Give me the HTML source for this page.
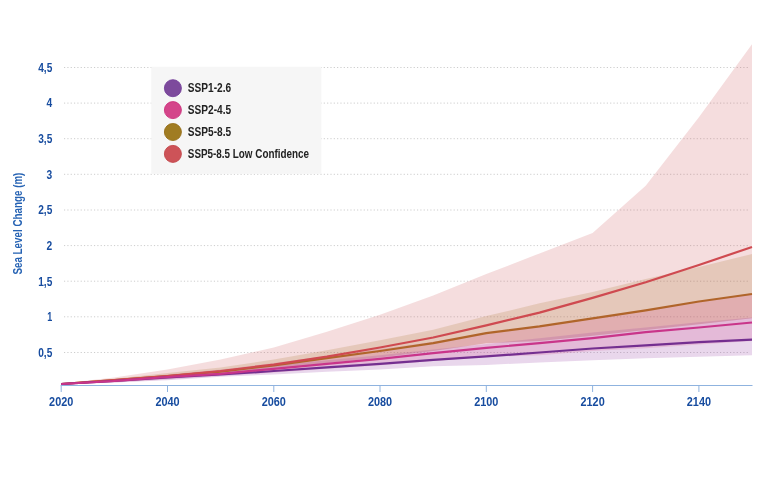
<!DOCTYPE html>
<html lang="en"><head><meta charset="utf-8"><title>Sea Level Change</title>
<style>
html,body{margin:0;padding:0;background:#fff;}
body{width:768px;height:477px;overflow:hidden;}
svg{display:block;}
text{font-family:"Liberation Sans",sans-serif;font-weight:bold;font-size:12px;}
.ax{fill:#174c9f;}
.lg{fill:#222;}
</style></head><body>
<svg width="768" height="477" viewBox="0 0 768 477">
<rect width="768" height="477" fill="#fff"/>

<g stroke="#cdcdcd" stroke-width="1" stroke-dasharray="1.2 2.13" fill="none">
<path d="M64 352.5H750"/>
<path d="M64 316.8H750"/>
<path d="M64 281.2H750"/>
<path d="M64 245.6H750"/>
<path d="M64 210.0H750"/>
<path d="M64 174.3H750"/>
<path d="M64 138.7H750"/>
<path d="M64 103.1H750"/>
<path d="M64 67.5H750"/>
</g>
<text class="ax" x="52.3" y="356.8" text-anchor="end" textLength="14.1" lengthAdjust="spacingAndGlyphs">0,5</text>
<text class="ax" x="52.3" y="321.1" text-anchor="end" textLength="5.0" lengthAdjust="spacingAndGlyphs">1</text>
<text class="ax" x="52.3" y="285.5" text-anchor="end" textLength="14.1" lengthAdjust="spacingAndGlyphs">1,5</text>
<text class="ax" x="52.3" y="249.9" text-anchor="end" textLength="5.7" lengthAdjust="spacingAndGlyphs">2</text>
<text class="ax" x="52.3" y="214.3" text-anchor="end" textLength="14.1" lengthAdjust="spacingAndGlyphs">2,5</text>
<text class="ax" x="52.3" y="178.6" text-anchor="end" textLength="5.7" lengthAdjust="spacingAndGlyphs">3</text>
<text class="ax" x="52.3" y="143.0" text-anchor="end" textLength="14.1" lengthAdjust="spacingAndGlyphs">3,5</text>
<text class="ax" x="52.3" y="107.4" text-anchor="end" textLength="5.7" lengthAdjust="spacingAndGlyphs">4</text>
<text class="ax" x="52.3" y="71.8" text-anchor="end" textLength="14.1" lengthAdjust="spacingAndGlyphs">4,5</text>
<text class="ax" style="fill:#2562b3" transform="translate(22.3 223.6) rotate(-90)" text-anchor="middle" textLength="102" lengthAdjust="spacingAndGlyphs">Sea Level Change (m)</text>
<rect x="151.3" y="66.8" width="170" height="107" fill="#f6f6f6"/>
<circle cx="172.9" cy="88.2" r="8.5" fill="#7d4a9c" stroke="#74409a" stroke-width="0.9"/>
<text class="lg" x="187.8" y="92.2" textLength="43.3" lengthAdjust="spacingAndGlyphs">SSP1-2.6</text>
<circle cx="172.9" cy="110.1" r="8.5" fill="#d4458a" stroke="#cd327d" stroke-width="0.9"/>
<text class="lg" x="187.8" y="114.1" textLength="43.3" lengthAdjust="spacingAndGlyphs">SSP2-4.5</text>
<circle cx="172.9" cy="132.0" r="8.5" fill="#a07c22" stroke="#966e19" stroke-width="0.9"/>
<text class="lg" x="187.8" y="136.0" textLength="43.3" lengthAdjust="spacingAndGlyphs">SSP5-8.5</text>
<circle cx="172.9" cy="153.9" r="8.5" fill="#cd5358" stroke="#c3464b" stroke-width="0.9"/>
<text class="lg" x="187.8" y="157.9" textLength="121.2" lengthAdjust="spacingAndGlyphs">SSP5-8.5 Low Confidence</text>
<polygon fill="#a07e23" fill-opacity="0.2" points="61.2,383.4 114.3,378.8 167.5,373.1 220.6,367.4 273.8,359.6 326.9,350.3 380.0,340.3 433.2,329.7 486.3,316.1 539.5,303.3 592.6,291.9 645.7,279.1 698.9,267.0 752.0,254.1 752.0,318.3 698.9,324.2 645.7,330.0 592.6,335.7 539.5,341.1 486.3,343.2 433.2,351.0 380.0,357.4 326.9,363.1 273.8,368.8 220.6,373.8 167.5,378.8 114.3,381.7 61.2,384.5"/>
<polygon fill="#cd5358" fill-opacity="0.2" points="61.2,383.4 114.3,377.4 167.5,369.6 220.6,359.6 273.8,347.5 326.9,331.8 380.0,314.7 433.2,295.5 486.3,274.1 539.5,253.4 592.6,233.1 645.7,185.7 698.9,117.3 752.0,44.2 752.0,318.3 698.9,324.2 645.7,330.0 592.6,335.7 539.5,341.1 486.3,343.2 433.2,351.0 380.0,357.4 326.9,363.1 273.8,368.8 220.6,373.8 167.5,378.8 114.3,381.7 61.2,384.5"/>
<polygon fill="#93369e" fill-opacity="0.2" points="61.2,383.4 114.3,379.5 167.5,375.3 220.6,370.3 273.8,365.3 326.9,360.3 380.0,355.3 433.2,349.6 486.3,343.9 539.5,338.2 592.6,332.5 645.7,327.5 698.9,322.2 752.0,317.5 752.0,355.3 698.9,356.7 645.7,358.2 592.6,360.3 539.5,362.4 486.3,364.9 433.2,366.3 380.0,369.6 326.9,371.7 273.8,374.5 220.6,376.7 167.5,380.2 114.3,382.4 61.2,384.5"/>
<polygon fill="#d4458a" fill-opacity="0.2" points="61.2,383.4 114.3,379.5 167.5,374.5 220.6,369.6 273.8,363.1 326.9,356.0 380.0,348.9 433.2,341.8 486.3,333.9 539.5,326.1 592.6,318.3 645.7,310.4 698.9,301.9 752.0,293.3 752.0,341.1 698.9,344.6 645.7,348.2 592.6,351.0 539.5,355.3 486.3,356.7 433.2,361.0 380.0,365.3 326.9,368.8 273.8,372.4 220.6,376.0 167.5,379.5 114.3,382.4 61.2,384.5"/>
<polyline fill="none" stroke="#b0652a" stroke-width="2.2" stroke-linejoin="round" points="61.2,384.0 114.3,380.2 167.5,376.0 220.6,371.7 273.8,365.3 326.9,358.2 380.0,351.0 433.2,343.2 486.3,333.2 539.5,326.4 592.6,318.3 645.7,310.4 698.9,301.5 752.0,294.0"/>
<polyline fill="none" stroke="#cf4a50" stroke-width="2.2" stroke-linejoin="round" points="61.2,384.0 114.3,380.2 167.5,376.0 220.6,371.0 273.8,364.6 326.9,356.7 380.0,347.5 433.2,337.5 486.3,325.4 539.5,312.6 592.6,297.9 645.7,282.3 698.9,265.0 752.0,247.0"/>
<polyline fill="none" stroke="#742f90" stroke-width="2.2" stroke-linejoin="round" points="61.2,384.0 114.3,381.0 167.5,377.4 220.6,374.5 273.8,371.0 326.9,367.4 380.0,363.9 433.2,359.9 486.3,356.4 539.5,352.5 592.6,348.5 645.7,345.3 698.9,342.1 752.0,339.6"/>
<polyline fill="none" stroke="#c9358a" stroke-width="2.2" stroke-linejoin="round" points="61.2,384.0 114.3,381.0 167.5,377.0 220.6,373.8 273.8,368.8 326.9,363.9 380.0,358.9 433.2,353.2 486.3,347.8 539.5,343.2 592.6,338.2 645.7,332.1 698.9,327.5 752.0,322.5"/>
<g stroke="#8fb3df" stroke-width="1" fill="none">
<path d="M60.7 385.5H752.5"/>
<path d="M61.2 385.5V392"/>
<path d="M167.5 385.5V392"/>
<path d="M273.8 385.5V392"/>
<path d="M380.0 385.5V392"/>
<path d="M486.3 385.5V392"/>
<path d="M592.6 385.5V392"/>
<path d="M698.9 385.5V392"/>
</g>
<text class="ax" x="61.2" y="406.3" text-anchor="middle" textLength="24.2" lengthAdjust="spacingAndGlyphs">2020</text>
<text class="ax" x="167.5" y="406.3" text-anchor="middle" textLength="24.2" lengthAdjust="spacingAndGlyphs">2040</text>
<text class="ax" x="273.8" y="406.3" text-anchor="middle" textLength="24.2" lengthAdjust="spacingAndGlyphs">2060</text>
<text class="ax" x="380.0" y="406.3" text-anchor="middle" textLength="24.2" lengthAdjust="spacingAndGlyphs">2080</text>
<text class="ax" x="486.3" y="406.3" text-anchor="middle" textLength="24.2" lengthAdjust="spacingAndGlyphs">2100</text>
<text class="ax" x="592.6" y="406.3" text-anchor="middle" textLength="24.2" lengthAdjust="spacingAndGlyphs">2120</text>
<text class="ax" x="698.9" y="406.3" text-anchor="middle" textLength="24.2" lengthAdjust="spacingAndGlyphs">2140</text>
</svg></body></html>
